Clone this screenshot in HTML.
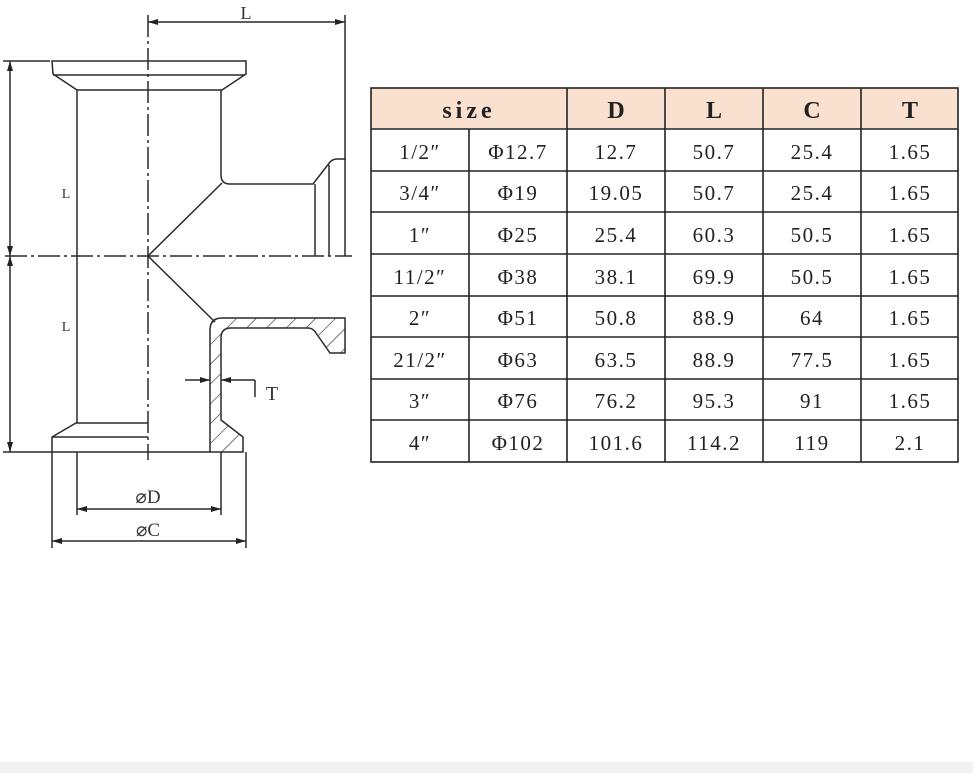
<!DOCTYPE html>
<html><head><meta charset="utf-8"><style>
html,body{margin:0;padding:0;background:#fff;width:973px;height:773px;overflow:hidden}
</style></head><body>
<svg width="973" height="773" viewBox="0 0 973 773" xmlns="http://www.w3.org/2000/svg">
<defs>
<marker id="a" viewBox="0 0 10 6" refX="10" refY="3" markerWidth="10" markerHeight="6" orient="auto-start-reverse" markerUnits="userSpaceOnUse"><path d="M0,0 L10,3 L0,6 z" fill="#222"/></marker>
<pattern id="h" width="14" height="14" patternUnits="userSpaceOnUse" patternTransform="rotate(45)"><line x1="0" y1="0" x2="0" y2="14" stroke="#333" stroke-width="1.3"/></pattern>
</defs>
<rect x="0" y="762" width="973" height="11" fill="#f1f2f4"/>
<g stroke="#2a2a2a" stroke-width="1.5" fill="none">
<path d="M52,61 H246 V74 L222,90 H77 L53,74 Z"/>
<line x1="53" y1="75" x2="245" y2="75"/>
<line x1="77" y1="90" x2="77" y2="423"/>
<path d="M221,90 V175 Q221,184 230,184 H313 L330,162 Q333,159 337,159 H345 V256"/>
<line x1="315" y1="184" x2="315" y2="256"/>
<line x1="329" y1="165" x2="329" y2="256"/>
<path d="M222,183 L148,256 L215,322"/>
<path d="M210,452 V330 Q210,318 222,318 H345 V353 H330 L316,333 Q313,328 308,328 H231 Q221,328 221,338 V420 L243,437 V452 Z" fill="url(#h)"/>
<path d="M210,452 H52 V437 L76,423 H148"/>
<line x1="52" y1="437" x2="148" y2="437"/>
<line x1="148" y1="15" x2="148" y2="460" stroke-dasharray="22,4,3,4"/>
<line x1="5" y1="256" x2="352" y2="256" stroke-dasharray="22,4,3,4"/>
<line x1="345" y1="15" x2="345" y2="160"/>
<line x1="148" y1="22" x2="345" y2="22" marker-start="url(#a)" marker-end="url(#a)"/>
<line x1="3" y1="61" x2="50" y2="61"/>
<line x1="3" y1="452" x2="52" y2="452"/>
<line x1="10" y1="61" x2="10" y2="256" marker-start="url(#a)" marker-end="url(#a)"/>
<line x1="10" y1="256" x2="10" y2="452" marker-start="url(#a)" marker-end="url(#a)"/>
<line x1="185" y1="380" x2="210" y2="380" marker-end="url(#a)"/>
<line x1="221" y1="380" x2="255" y2="380" marker-start="url(#a)"/>
<line x1="255" y1="380" x2="255" y2="397"/>
<line x1="77" y1="452" x2="77" y2="515"/>
<line x1="221" y1="452" x2="221" y2="515"/>
<line x1="52" y1="452" x2="52" y2="548"/>
<line x1="246" y1="452" x2="246" y2="548"/>
<line x1="77" y1="509" x2="221" y2="509" marker-start="url(#a)" marker-end="url(#a)"/>
<line x1="52" y1="541" x2="246" y2="541" marker-start="url(#a)" marker-end="url(#a)"/>
</g>
<g font-family="Liberation Serif, serif" fill="#333">
<text x="246" y="19" font-size="18" text-anchor="middle">L</text>
<text x="66" y="198" font-size="14" text-anchor="middle">L</text>
<text x="66" y="331" font-size="14" text-anchor="middle">L</text>
<text x="272" y="400" font-size="20" text-anchor="middle">T</text>
<text x="148" y="503" font-size="19" text-anchor="middle">⌀D</text>
<text x="148" y="536" font-size="19" text-anchor="middle">⌀C</text>
</g>
<rect x="371" y="88" width="587" height="41" fill="#f9e0cf"/>
<g stroke="#222" stroke-width="1.6" fill="none">
<rect x="371" y="88" width="587" height="374"/>
<line x1="371" y1="129" x2="958" y2="129"/>
<line x1="371" y1="171" x2="958" y2="171"/>
<line x1="371" y1="212" x2="958" y2="212"/>
<line x1="371" y1="254" x2="958" y2="254"/>
<line x1="371" y1="296" x2="958" y2="296"/>
<line x1="371" y1="337" x2="958" y2="337"/>
<line x1="371" y1="379" x2="958" y2="379"/>
<line x1="371" y1="420" x2="958" y2="420"/>
<line x1="469" y1="129" x2="469" y2="462"/>
<line x1="567" y1="88" x2="567" y2="462"/>
<line x1="665" y1="88" x2="665" y2="462"/>
<line x1="763" y1="88" x2="763" y2="462"/>
<line x1="861" y1="88" x2="861" y2="462"/>
</g>
<g font-family="Liberation Serif, serif" font-size="24" font-weight="bold" fill="#222" text-anchor="middle">
<text x="469" y="118" letter-spacing="4">size</text>
<text x="616" y="118">D</text><text x="714" y="118">L</text><text x="812" y="118">C</text><text x="910" y="118">T</text>
</g>
<g font-family="Liberation Serif, serif" font-size="21" fill="#222" text-anchor="middle" letter-spacing="1.5">
<text y="159"><tspan x="420">1/2″</tspan><tspan x="518">Φ12.7</tspan><tspan x="616">12.7</tspan><tspan x="714">50.7</tspan><tspan x="812">25.4</tspan><tspan x="910">1.65</tspan></text>
<text y="200"><tspan x="420">3/4″</tspan><tspan x="518">Φ19</tspan><tspan x="616">19.05</tspan><tspan x="714">50.7</tspan><tspan x="812">25.4</tspan><tspan x="910">1.65</tspan></text>
<text y="242"><tspan x="420">1″</tspan><tspan x="518">Φ25</tspan><tspan x="616">25.4</tspan><tspan x="714">60.3</tspan><tspan x="812">50.5</tspan><tspan x="910">1.65</tspan></text>
<text y="284"><tspan x="420">11/2″</tspan><tspan x="518">Φ38</tspan><tspan x="616">38.1</tspan><tspan x="714">69.9</tspan><tspan x="812">50.5</tspan><tspan x="910">1.65</tspan></text>
<text y="325"><tspan x="420">2″</tspan><tspan x="518">Φ51</tspan><tspan x="616">50.8</tspan><tspan x="714">88.9</tspan><tspan x="812">64</tspan><tspan x="910">1.65</tspan></text>
<text y="367"><tspan x="420">21/2″</tspan><tspan x="518">Φ63</tspan><tspan x="616">63.5</tspan><tspan x="714">88.9</tspan><tspan x="812">77.5</tspan><tspan x="910">1.65</tspan></text>
<text y="408"><tspan x="420">3″</tspan><tspan x="518">Φ76</tspan><tspan x="616">76.2</tspan><tspan x="714">95.3</tspan><tspan x="812">91</tspan><tspan x="910">1.65</tspan></text>
<text y="450"><tspan x="420">4″</tspan><tspan x="518">Φ102</tspan><tspan x="616">101.6</tspan><tspan x="714">114.2</tspan><tspan x="812">119</tspan><tspan x="910">2.1</tspan></text>
</g>
</svg>
</body></html>
